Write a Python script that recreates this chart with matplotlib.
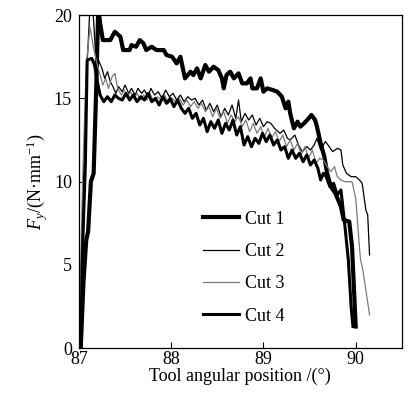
import matplotlib
matplotlib.use('Agg')
import matplotlib.pyplot as plt

# Cut 1 - thickest line, upper curve
cut1_x = [87.02, 87.05, 87.08, 87.10, 87.13, 87.16, 87.19, 87.21, 87.23, 87.26,
          87.30, 87.34, 87.39, 87.45, 87.48, 87.55, 87.57, 87.62, 87.66, 87.70,
          87.73, 87.79, 87.84, 87.92, 87.95, 88.01, 88.06, 88.10, 88.15, 88.21,
          88.24, 88.28, 88.32, 88.37, 88.41, 88.46, 88.51, 88.55, 88.57, 88.60,
          88.64, 88.68, 88.73, 88.77, 88.82, 88.86, 88.88, 88.93, 88.97, 89.00,
          89.04, 89.10, 89.15, 89.20, 89.24, 89.27, 89.29, 89.33, 89.37, 89.40,
          89.44, 89.49, 89.52, 89.56, 89.58, 89.62, 89.66, 89.69, 89.73, 89.78,
          89.84, 89.87, 89.93, 89.96, 90.00]
cut1_y = [0, 4, 6.5, 7, 10, 10.5, 16, 20.5, 19.5, 18.5,
          18.5, 18.5, 19.0, 18.7, 17.9, 17.9, 18.2, 18.1, 18.5, 18.3,
          17.9, 18.1, 17.9, 17.9, 17.6, 17.5, 17.1, 17.5, 16.2, 16.6,
          16.4, 16.8, 16.2, 17.0, 16.6, 16.9, 16.7, 16.2, 15.6, 16.4,
          16.6, 16.2, 16.5, 15.9, 15.9, 16.2, 15.6, 15.6, 16.2, 15.4,
          15.6, 15.5, 15.4, 15.1, 14.4, 14.8, 14.1, 13.2, 13.6, 13.3,
          13.5, 13.8, 14.0, 13.7, 13.3, 12.3, 11.5, 10.5, 9.7, 9.3,
          8.5, 7.7, 7.6, 6.1, 1.3]

# Cut 2 - thin black
cut2_x = [87.01, 87.04, 87.08, 87.12, 87.15, 87.18, 87.22, 87.25, 87.28, 87.31,
          87.34, 87.37, 87.40, 87.43, 87.47, 87.50, 87.54, 87.57, 87.61, 87.64,
          87.68, 87.71, 87.75, 87.78, 87.82, 87.86, 87.90, 87.94, 87.98, 88.02,
          88.06, 88.10, 88.14, 88.18, 88.22, 88.26, 88.30, 88.34, 88.38, 88.42,
          88.46, 88.50, 88.54, 88.58, 88.62, 88.66, 88.70, 88.73, 88.76, 88.80,
          88.84, 88.88, 88.92, 88.96, 89.00, 89.04, 89.08, 89.12, 89.18, 89.22,
          89.26, 89.29, 89.34, 89.38, 89.42, 89.47, 89.51, 89.55, 89.58, 89.62,
          89.67, 89.70, 89.75, 89.80, 89.84, 89.86, 89.90, 89.95, 90.00, 90.04,
          90.07, 90.11, 90.13, 90.15]
cut2_y = [0, 8, 16, 20.5, 20.5, 17.8, 17.2, 16.8, 16.2, 16.6,
          16.0, 15.7, 15.3, 15.7, 15.4, 15.8, 15.3, 15.6, 15.2, 15.6,
          15.3, 15.5, 15.1, 15.6, 15.2, 15.4, 15.0, 15.5, 15.1, 15.3,
          14.9, 15.2, 14.8, 15.1, 14.9, 15.0, 14.6, 14.9, 14.3, 14.7,
          14.2, 14.6, 13.9, 14.4, 14.0, 14.6, 13.8, 14.9, 13.6, 14.1,
          13.7, 14.0, 13.4, 13.8, 13.3, 13.6, 13.5, 13.2, 12.9, 13.1,
          12.6, 12.5, 12.8, 12.2, 11.8, 12.1, 11.9, 12.2, 12.6, 11.9,
          12.4, 12.2, 11.8, 12.0, 11.9, 11.0, 10.5, 10.3, 10.3, 10.1,
          9.9, 8.3, 8.0, 5.6]

# Cut 3 - thin grey
cut3_x = [87.00, 87.04, 87.08, 87.12, 87.16, 87.20, 87.23, 87.26, 87.29, 87.32,
          87.36, 87.39, 87.42, 87.46, 87.49, 87.53, 87.56, 87.60, 87.63, 87.67,
          87.70, 87.74, 87.77, 87.81, 87.85, 87.89, 87.93, 87.97, 88.01, 88.05,
          88.09, 88.13, 88.17, 88.21, 88.25, 88.29, 88.33, 88.37, 88.41, 88.45,
          88.49, 88.53, 88.57, 88.61, 88.65, 88.69, 88.73, 88.77, 88.81, 88.85,
          88.89, 88.93, 88.97, 89.01, 89.05, 89.09, 89.13, 89.17, 89.21, 89.25,
          89.29, 89.33, 89.37, 89.41, 89.45, 89.49, 89.53, 89.57, 89.61, 89.65,
          89.69, 89.73, 89.77, 89.80, 89.84, 89.88, 89.92, 89.96, 90.00, 90.05,
          90.08, 90.15]
cut3_y = [0, 10, 17, 19.3, 18.0, 17.0, 16.4, 15.8, 16.2, 15.6,
          16.3, 16.5, 15.6, 15.2, 15.5, 15.1, 15.4, 15.0, 15.3, 14.9,
          15.2, 14.9, 15.3, 14.8, 15.1, 14.9, 15.2, 14.7, 15.0, 14.8,
          15.0, 14.6, 14.9, 14.5, 14.8, 14.4, 14.7, 14.2, 14.5, 13.9,
          14.4, 13.8, 14.2, 13.5, 14.0, 13.6, 13.9, 13.3, 13.7, 13.0,
          13.5, 12.9, 13.3, 12.7, 13.2, 12.6, 13.0, 12.4, 12.8, 12.1,
          12.5, 11.9, 12.3, 11.6, 12.1, 11.4, 11.9, 11.1, 11.4, 11.3,
          10.9, 10.6, 10.9, 10.3, 10.1, 10.0, 10.0, 10.0, 9.0, 5.4,
          4.6, 2.0]

# Cut 4 - thick black, lower group
cut4_x = [87.02, 87.04, 87.07, 87.09, 87.14, 87.17, 87.20, 87.23, 87.27, 87.31,
          87.35, 87.39, 87.43, 87.47, 87.51, 87.55, 87.59, 87.63, 87.67, 87.71,
          87.75, 87.79, 87.83, 87.87, 87.91, 87.95, 87.99, 88.03, 88.07, 88.11,
          88.15, 88.19, 88.23, 88.27, 88.31, 88.35, 88.39, 88.43, 88.47, 88.51,
          88.55, 88.59, 88.63, 88.67, 88.71, 88.75, 88.79, 88.83, 88.87, 88.91,
          88.95, 88.99, 89.03, 89.07, 89.11, 89.15, 89.19, 89.23, 89.27, 89.31,
          89.35, 89.39, 89.43, 89.47, 89.51, 89.55, 89.59, 89.62, 89.65, 89.68,
          89.72, 89.76, 89.80, 89.84, 89.88, 89.92, 89.95, 89.97]
cut4_y = [0, 6, 11, 17.3, 17.4, 17.0, 16.0, 15.2, 14.8, 15.1,
          14.8, 15.2, 15.0, 14.9, 15.3, 14.9, 15.2, 14.8, 15.1, 14.9,
          15.3, 14.8, 15.0, 14.6, 15.1, 14.7, 15.0, 14.5, 14.9, 14.4,
          14.1, 14.4, 13.8, 14.1, 13.4, 13.8, 13.0, 13.6, 13.2, 13.7,
          12.9, 13.5, 13.1, 13.7, 12.8, 13.3, 12.2, 12.7, 12.1, 12.6,
          12.3, 12.9, 12.4, 12.8, 12.2, 12.5, 11.9, 12.1, 11.4, 11.9,
          11.4, 11.7, 11.2, 11.6, 11.0, 11.3, 10.8, 10.1, 10.5, 10.3,
          9.7, 9.9, 9.2, 9.5, 7.5, 5.3, 2.5, 1.3]

x_ticks = [87, 88, 89, 90]
y_ticks = [0, 5, 10, 15, 20]

plt.rcParams['font.family'] = ['Liberation Serif', 'DejaVu Serif']
plt.rcParams['mathtext.fontset'] = 'custom'
plt.rcParams['mathtext.rm'] = 'Liberation Serif'
plt.rcParams['mathtext.it'] = 'Liberation Serif:italic'

fig = plt.figure(figsize=(4.13, 3.97), dpi=100)
ax = fig.add_axes([0.191, 0.123, 0.782, 0.839])

ax.plot(cut1_x, cut1_y, color='black', lw=3.0, label='Cut 1', solid_joinstyle='round')
ax.plot(cut2_x, cut2_y, color='black', lw=0.9, label='Cut 2')
ax.plot(cut3_x, cut3_y, color='#7a7a7a', lw=0.9, label='Cut 3')
ax.plot(cut4_x, cut4_y, color='black', lw=2.2, label='Cut 4', solid_joinstyle='round')

ax.set_xlim(87, 90.5)
ax.set_ylim(0, 20)
ax.set_xticks(x_ticks)
ax.set_yticks(y_ticks)
ax.tick_params(direction='in', length=4, width=0.8, labelsize=13)
ax.tick_params(axis='x', pad=2)
ax.tick_params(axis='y', pad=5)
for s in ax.spines.values():
    s.set_linewidth(0.9)

ax.set_xlabel('Tool angular position /(°)', fontsize=13, labelpad=0)
ax.set_ylabel(r'$F_y$/(N·mm$^{-1}$)', fontsize=13, labelpad=3)

ax.legend(frameon=False, loc='upper left', bbox_to_anchor=(0.384, 0.413),
          borderaxespad=0, borderpad=0, handlelength=2.0, handletextpad=0.35,
          labelspacing=0.85, fontsize=13)

fig.savefig('out.png', dpi=100)
